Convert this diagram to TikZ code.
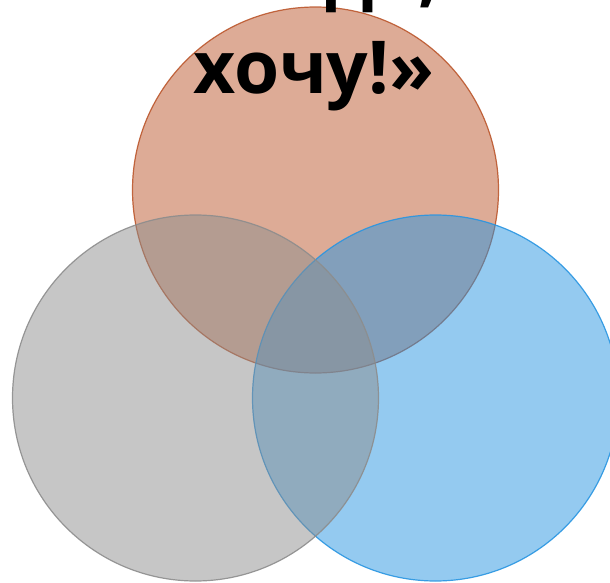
\documentclass[tikz,border=0pt]{standalone}
\usepackage{fontspec}
\setmainfont{Open Sans}
\usepackage{xcolor}
\usetikzlibrary{positioning}

\definecolor{vennorange}{RGB}{187,87,45}
\definecolor{venngray}{RGB}{141,141,141}
\definecolor{vennblue}{RGB}{41,149,225}

\begin{document}
\begin{tikzpicture}[
    x=1pt, y=-1pt,
    venn/.style={circle, minimum size=366pt, inner sep=0pt, line width=1.2pt, fill opacity=0.5, draw opacity=0.9},
    caption/.style={align=center, inner sep=0pt, font=\fontsize{73}{95}\selectfont\bfseries}
]
\useasboundingbox (0,0) rectangle (610,583);

\node[venn, draw=vennorange, fill=vennorange] (want) at (315.5,190) {};
\node[venn, draw=vennblue, fill=vennblue] (can) at (435.5,398) {};
\node[venn, draw=venngray, fill=venngray] (must) at (195.5,398) {};

% text cut by the top edge
\node[caption, anchor=south] (words) at (314,111) {«надо,\\хочу!»};

\end{tikzpicture}
\end{document}
